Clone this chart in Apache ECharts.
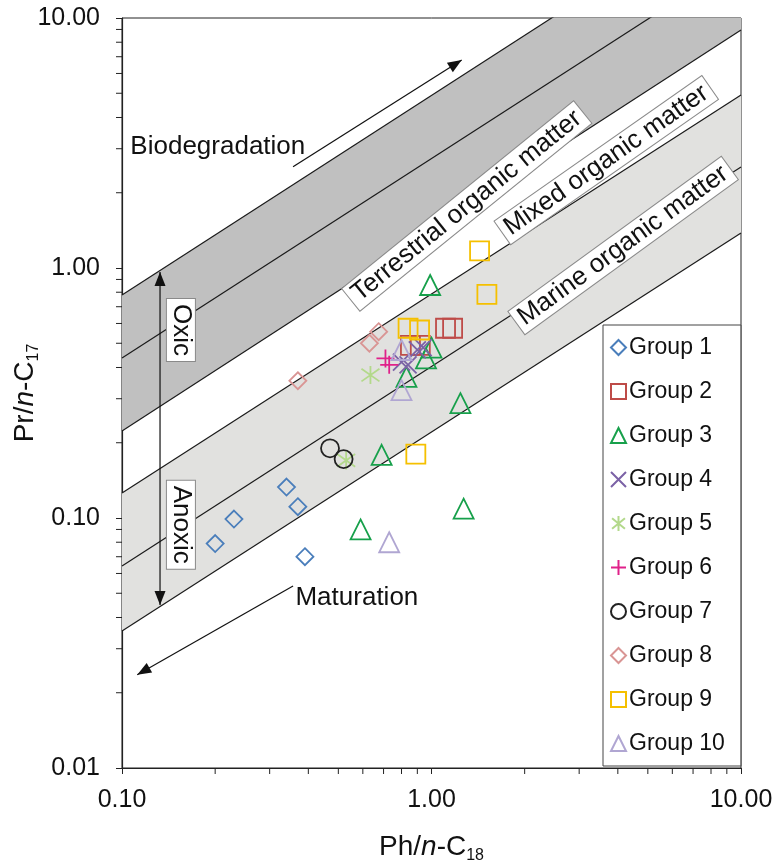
<!DOCTYPE html>
<html>
<head>
<meta charset="utf-8">
<script src="https://cdn.jsdelivr.net/npm/echarts@6/dist/echarts.min.js"></script>
<style>
html,body{margin:0;padding:0;background:#ffffff;}
#chart{width:773px;height:863px;}
</style>
</head>
<body>
<div id="chart"></div>
<script>
// ---------------- data ----------------
const groupNames = ['Group 1','Group 2','Group 3','Group 4','Group 5','Group 6','Group 7','Group 8','Group 9','Group 10'];
const group1 = [[0.20,0.079],[0.23,0.099],[0.34,0.133],[0.37,0.111],[0.39,0.070]];
const group2 = [[1.11,0.574],[1.17,0.574],[0.855,0.49],[0.92,0.49]];
const group3 = [[0.99,0.855],[1.00,0.48],[0.96,0.435],[0.83,0.367],[1.24,0.288],[0.69,0.179],[1.27,0.109],[0.59,0.090]];
const group4 = [[0.90,0.47],[0.94,0.48],[0.80,0.42],[0.84,0.41]];
const group5 = [[0.635,0.373],[0.53,0.17]];
const group6 = [[0.71,0.435],[0.73,0.41]];
const group7 = [[0.47,0.19],[0.52,0.172]];
const group8 = [[0.37,0.354],[0.63,0.50],[0.675,0.556]];
const group9 = [[1.43,1.17],[1.51,0.785],[0.84,0.574],[0.915,0.565],[0.89,0.18]];
const group10 = [[0.80,0.325],[0.73,0.08],[0.80,0.47]];

const xTickLabels = ['0.10','1.00','10.00'];
const yTickLabels = ['0.01','0.10','1.00','10.00'];
const xMinorTicks = [0.2,0.3,0.4,0.5,0.6,0.7,0.8,0.9,2,3,4,5,6,7,8,9];
const yMinorTicks = [0.02,0.03,0.04,0.05,0.06,0.07,0.08,0.09,0.2,0.3,0.4,0.5,0.6,0.7,0.8,0.9,2,3,4,5,6,7,8,9];

// boundary lines of the genetic fields: [start, end] in data units
const boundaryLines = [
  [[0.1,0.78],[10,30.8]],
  [[0.1,0.437],[10,17.2]],
  [[0.1,0.223],[10,8.95]],
  [[0.1,0.126],[10,4.92]],
  [[0.1,0.0643],[10,2.535]],
  [[0.1,0.0353],[10,1.38]]
];
const darkBand = [0, 2];
const lightBand = [3, 5];

// annotation arrows [from, to]
const arrowBiodegradation = [[0.357,2.54],[1.252,6.79]];
const arrowMaturation = [[0.357,0.0535],[0.112,0.0236]];
const arrowRedox = [[0.1327,0.964],[0.1327,0.0449]];

// annotation texts
const labelTexts = ['Terrestrial organic matter','Mixed organic matter','Marine organic matter','Oxic','Anoxic','Biodegradation','Maturation'];
const labelPositions = [[1.30,1.77],[3.67,2.7],[4.16,1.23],[0.155,0.565],[0.155,0.094],[0.204,3.05],[0.574,0.0479]];
const labelAngles = [39,35,36,-90,-90,0,0];
const labelBoxed = [true,true,true,true,true,false,false];

// ---------------- styles ----------------
const FONT = '"Liberation Sans", Arial, sans-serif';
const groupColors = ['#4a7ebb','#be4b48','#17a04b','#7b62a6','#b3d98b','#e0218a','#222222','#d99594','#f5c000','#b0a6d2'];
const PATH_X = 'path://M0 0L10 10M10 0L0 10';
const PATH_AST = 'path://M5 0L5 10M0.7 1.5L9.3 8.5M9.3 1.5L0.7 8.5';
const PATH_PLUS = 'path://M5 0L5 10M0 5L10 5';
const groupSymbols = ['diamond','rect','triangle',PATH_X,PATH_AST,PATH_PLUS,'circle','diamond','rect','triangle'];
const groupSizes = [17,19,20,17,18,18,18,17,19,20];
const groupData = [group1,group2,group3,group4,group5,group6,group7,group8,group9,group10];

const chart = echarts.init(document.getElementById('chart'), null, {renderer:'canvas'});

function fmtTick(labels, base) {
  return function (v) {
    const i = Math.round(Math.log10(v)) - base;
    return labels[i] !== undefined ? labels[i] : '';
  };
}

const series = [];

function bandSeries(pair, color) {
  return {
    type:'custom', silent:true, clip:true, z:1, data:[0],
    renderItem: function (params, api) {
      const a = boundaryLines[pair[0]], b = boundaryLines[pair[1]];
      const pts = [api.coord(a[0]), api.coord(a[1]), api.coord(b[1]), api.coord(b[0])];
      return {type:'polygon', shape:{points:pts}, style:{fill:color}};
    }
  };
}
series.push(bandSeries(darkBand, '#c0c0c0'));
series.push(bandSeries(lightBand, '#e1e1df'));

boundaryLines.forEach(function (ln, i) {
  series.push({
    type:'line', name:'boundary'+i, data:ln, symbol:'none', silent:true, clip:true, z:2,
    lineStyle:{color:'#1a1a1a', width:1.2}
  });
});

series.push({
  type:'custom', silent:true, clip:false, z:3, data:[0],
  renderItem: function (params, api) {
    const children = [];
    const yb = api.coord([1, 0.01])[1];
    const xl = api.coord([0.1, 1])[0];
    xMinorTicks.forEach(function (v) {
      const x = api.coord([v, 0.01])[0];
      children.push({type:'line', shape:{x1:x, y1:yb, x2:x, y2:yb+6}, style:{stroke:'#222', lineWidth:1}});
    });
    yMinorTicks.forEach(function (v) {
      const y = api.coord([0.1, v])[1];
      children.push({type:'line', shape:{x1:xl-6, y1:y, x2:xl, y2:y}, style:{stroke:'#222', lineWidth:1}});
    });
    return {type:'group', children:children};
  }
});

function arrowHead(p, q, len, w) {
  const dx = q[0]-p[0], dy = q[1]-p[1];
  const d = Math.sqrt(dx*dx+dy*dy);
  const ux = dx/d, uy = dy/d;
  const bx = q[0]-ux*len, by = q[1]-uy*len;
  return [[q[0],q[1]],[bx-uy*w/2, by+ux*w/2],[bx+uy*w/2, by-ux*w/2]];
}
series.push({
  type:'custom', silent:true, clip:false, z:5, data:[0],
  renderItem: function (params, api) {
    const children = [];
    function arrow(seg, both) {
      const p = api.coord(seg[0]), q = api.coord(seg[1]);
      children.push({type:'line', shape:{x1:p[0], y1:p[1], x2:q[0], y2:q[1]}, style:{stroke:'#111', lineWidth:1.2}});
      children.push({type:'polygon', shape:{points:arrowHead(p,q,14,11)}, style:{fill:'#111'}});
      if (both) children.push({type:'polygon', shape:{points:arrowHead(q,p,14,11)}, style:{fill:'#111'}});
    }
    arrow(arrowBiodegradation, false);
    arrow(arrowMaturation, false);
    arrow(arrowRedox, true);
    labelTexts.forEach(function (t, i) {
      const c = api.coord(labelPositions[i]);
      const st = {text:t, fontSize:26, fontFamily:FONT, fill:'#111', align:'center', verticalAlign:'middle'};
      if (labelBoxed[i]) {
        st.backgroundColor = '#ffffff';
        st.borderColor = '#8a8a8a';
        st.borderWidth = 1;
        st.padding = [2,5,0,5];
      }
      children.push({type:'text', x:c[0], y:c[1], rotation:labelAngles[i]*Math.PI/180, style:st, z2:10});
    });
    return {type:'group', children:children};
  }
});

groupNames.forEach(function (name, i) {
  series.push({
    type:'scatter', name:name, data:groupData[i], z:8,
    symbol:groupSymbols[i], symbolSize:groupSizes[i],
    itemStyle:{color:'rgba(255,255,255,0)', borderColor:groupColors[i], borderWidth:1.8, opacity:1}
  });
});

const richName = {
  t:{fontSize:28, fontFamily:FONT, color:'#111'},
  i:{fontSize:28, fontFamily:FONT, fontStyle:'italic', color:'#111'},
  s:{fontSize:16, fontFamily:FONT, color:'#111', padding:[18,0,0,0]}
};

const option = {
  animation:false,
  backgroundColor:'#ffffff',
  grid:{left:122, right:32, top:18, bottom:95, containLabel:false, outerBoundsMode:'none',
        show:true, borderColor:'#222', borderWidth:1, backgroundColor:'transparent'},
  xAxis:{
    type:'log', logBase:10, min:0.1, max:10,
    axisLine:{show:true, onZero:false, lineStyle:{color:'#222', width:1.2}},
    axisTick:{show:true, inside:false, length:6, lineStyle:{color:'#222'}},
    splitLine:{show:false}, minorTick:{show:false},
    axisLabel:{formatter:fmtTick(xTickLabels,-1), fontSize:25, fontFamily:FONT, color:'#111', margin:20},
    name:'{t|Ph/}{i|n}{t|-C}{s|18}', nameLocation:'middle', nameGap:62, nameMoveOverlap:false,
    nameTextStyle:{color:'#111', rich:richName}
  },
  yAxis:{
    type:'log', logBase:10, min:0.01, max:10,
    axisLine:{show:true, onZero:false, lineStyle:{color:'#222', width:1.2}},
    axisTick:{show:true, inside:false, length:6, lineStyle:{color:'#222'}},
    splitLine:{show:false}, minorTick:{show:false},
    axisLabel:{formatter:fmtTick(yTickLabels,-2), fontSize:25, fontFamily:FONT, color:'#111', margin:22},
    name:'{t|Pr/}{i|n}{t|-C}{s|17}', nameLocation:'middle', nameGap:80, nameRotate:90, nameMoveOverlap:false,
    nameTextStyle:{color:'#111', rich:richName}
  },
  legend:{
    data:groupNames, orient:'vertical', left:603, top:325,
    itemWidth:15, itemHeight:15, itemGap:21, padding:[11,16,11,7],
    borderColor:'#444', borderWidth:1, backgroundColor:'#ffffff',
    selectedMode:false, z:20,
    textStyle:{fontSize:23, fontFamily:FONT, color:'#111', padding:[0,0,0,-2]}
  },
  series:series
};
chart.setOption(option);
</script>
</body>
</html>
